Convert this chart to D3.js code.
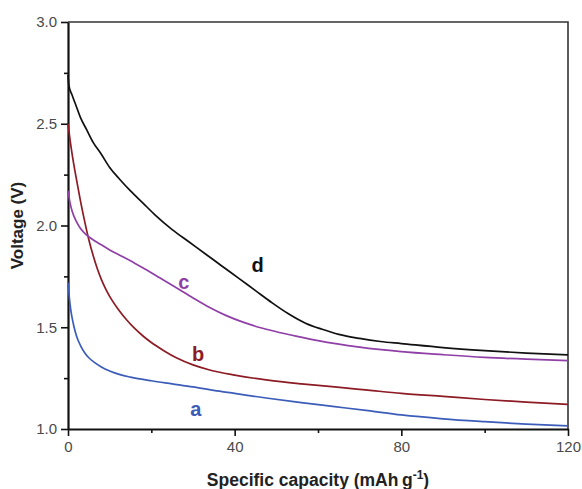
<!DOCTYPE html>
<html>
<head>
<meta charset="utf-8">
<script src="https://cdn.jsdelivr.net/npm/d3@7"></script>
<style>
  body { margin: 0; background: #fff; }
  text { font-family: Arial, "Liberation Sans", sans-serif; }
</style>
</head>
<body>
<div class="chart"></div>
<script>
var svgWidth = 582;
var svgHeight = 489;

var margin = { top: 22, right: 14, bottom: 60, left: 68 };
var width = 500;
var height = 407;

// series data (capacity in mAh/g, voltage in V)
var capA = [0, 0.3, 0.7, 1.3, 2, 3, 4, 5, 6.5, 8, 10, 12.5, 15, 20, 25, 30, 35, 40, 48, 56, 64, 72, 80, 90, 100, 110, 120];
var voltA = [1.72, 1.65, 1.58, 1.515, 1.46, 1.41, 1.375, 1.35, 1.325, 1.305, 1.285, 1.267, 1.255, 1.237, 1.222, 1.207, 1.19, 1.175, 1.151, 1.13, 1.11, 1.09, 1.069, 1.05, 1.036, 1.024, 1.015];

var capB = [0, 0.5, 1, 2, 3, 4, 5, 6, 7, 8, 9, 10, 12, 14, 16, 18, 20, 23, 26, 30, 34, 40, 48, 56, 64, 72, 80, 90, 100, 110, 120];
var voltB = [2.50, 2.42, 2.35, 2.23, 2.12, 2.02, 1.93, 1.855, 1.79, 1.735, 1.69, 1.652, 1.59, 1.538, 1.494, 1.457, 1.425, 1.385, 1.35, 1.315, 1.29, 1.265, 1.24, 1.222, 1.207, 1.191, 1.175, 1.16, 1.145, 1.132, 1.121];

var capC = [0, 0.5, 1, 2, 3, 4.5, 6, 8, 10, 13, 16, 19, 22, 26, 30, 34, 38, 42, 46, 50, 55, 60, 70, 80, 90, 100, 110, 120];
var voltC = [2.17, 2.11, 2.07, 2.02, 1.985, 1.953, 1.93, 1.905, 1.88, 1.848, 1.815, 1.78, 1.743, 1.694, 1.644, 1.597, 1.557, 1.525, 1.499, 1.478, 1.455, 1.434, 1.402, 1.38, 1.365, 1.352, 1.343, 1.336];

var capD = [0, 0.2, 1, 2, 3, 4.5, 6, 8, 10, 12.5, 15, 18, 21, 25, 29, 33, 37, 41, 45, 49, 53, 57, 61, 65, 70, 75, 80, 90, 100, 110, 120];
var voltD = [2.74, 2.69, 2.64, 2.585, 2.53, 2.47, 2.41, 2.35, 2.285, 2.225, 2.17, 2.11, 2.05, 1.98, 1.92, 1.86, 1.80, 1.74, 1.68, 1.62, 1.565, 1.52, 1.49, 1.465, 1.445, 1.43, 1.42, 1.40, 1.385, 1.373, 1.364];

var seriesNames = ["a", "b", "c", "d"];
var seriesColors = ["#3b5cb8", "#8c1b24", "#8f3fa6", "#111111"];
var labelPos = [[30.7, 1.064], [31.2, 1.334], [27.8, 1.688], [45.5, 1.77]]; // data coords of the letters

var xTicks = [0, 40, 80, 120];
var xMinor = [20, 60, 100];
var yTicks = [1.0, 1.5, 2.0, 2.5, 3.0];
var yMinor = [1.25, 1.75, 2.25, 2.75];

var series = [
  { cap: capA, volt: voltA },
  { cap: capB, volt: voltB },
  { cap: capC, volt: voltC },
  { cap: capD, volt: voltD }
];

var svg = d3.select(".chart")
  .append("svg")
  .attr("width", svgWidth)
  .attr("height", svgHeight);

var chartGroup = svg.append("g")
  .attr("transform", `translate(${margin.left}, ${margin.top})`);

var x = d3.scaleLinear().domain([0, 120]).range([0, width]);
var y = d3.scaleLinear().domain([1.0, 3.0]).range([height, 0]);

// frame (top and right)
chartGroup.append("path")
  .attr("d", `M0,0H${width}V${height}`)
  .attr("fill", "none")
  .attr("stroke", "#333")
  .attr("stroke-width", 1.6);

// minor ticks first
chartGroup.append("g")
  .attr("transform", `translate(0, ${height})`)
  .call(d3.axisBottom(x).tickValues(xMinor).tickSize(4).tickFormat(""))
  .call(g => g.select(".domain").remove())
  .selectAll("line").attr("stroke", "#111").attr("stroke-width", 1.6);

chartGroup.append("g")
  .call(d3.axisLeft(y).tickValues(yMinor).tickSize(4).tickFormat(""))
  .call(g => g.select(".domain").remove())
  .selectAll("line").attr("stroke", "#111").attr("stroke-width", 1.6);

// major axes
var xAxis = chartGroup.append("g")
  .attr("transform", `translate(0, ${height})`)
  .call(d3.axisBottom(x).tickValues(xTicks).tickSize(7).tickSizeOuter(0).tickPadding(5).tickFormat(d3.format("d")));

var yAxis = chartGroup.append("g")
  .call(d3.axisLeft(y).tickValues(yTicks).tickSize(7).tickSizeOuter(0).tickPadding(4).tickFormat(d3.format(".1f")));

[xAxis, yAxis].forEach(function(ax) {
  ax.select(".domain").attr("stroke", "#111").attr("stroke-width", 2.2);
  ax.selectAll("line").attr("stroke", "#111").attr("stroke-width", 1.6);
  ax.selectAll("text").attr("font-size", 15).attr("fill", "#4a4a4a");
});

// curves
var line = d3.line()
  .x(d => x(d[0]))
  .y(d => y(d[1]))
  .curve(d3.curveMonotoneX);

series.forEach(function(s, i) {
  var pts = s.cap.map((c, j) => [c, s.volt[j]]);
  chartGroup.append("path")
    .datum(pts)
    .attr("d", line)
    .attr("fill", "none")
    .attr("stroke", seriesColors[i])
    .attr("stroke-width", 1.7);
});

// curve letters
chartGroup.selectAll(".curve-label")
  .data(seriesNames)
  .enter()
  .append("text")
  .attr("class", "curve-label")
  .attr("x", (d, i) => x(labelPos[i][0]))
  .attr("y", (d, i) => y(labelPos[i][1]))
  .attr("text-anchor", "middle")
  .attr("font-size", 20)
  .attr("font-weight", "bold")
  .attr("fill", (d, i) => seriesColors[i])
  .text(d => d);

// axis titles
var xTitle = svg.append("text")
  .attr("x", margin.left + width / 2)
  .attr("y", 486)
  .attr("text-anchor", "middle")
  .attr("font-size", 17.5)
  .attr("font-weight", "bold")
  .attr("fill", "#222");
xTitle.append("tspan").text("Specific capacity (mAh\u2009g");
xTitle.append("tspan").attr("dy", -7).attr("font-size", 12).text("-1");
xTitle.append("tspan").attr("dy", 7).text(")");

svg.append("text")
  .attr("transform", `translate(23, ${margin.top + height / 2}) rotate(-90)`)
  .attr("text-anchor", "middle")
  .attr("font-size", 17)
  .attr("font-weight", "bold")
  .attr("fill", "#222")
  .text("Voltage (V)");
</script>
</body>
</html>
